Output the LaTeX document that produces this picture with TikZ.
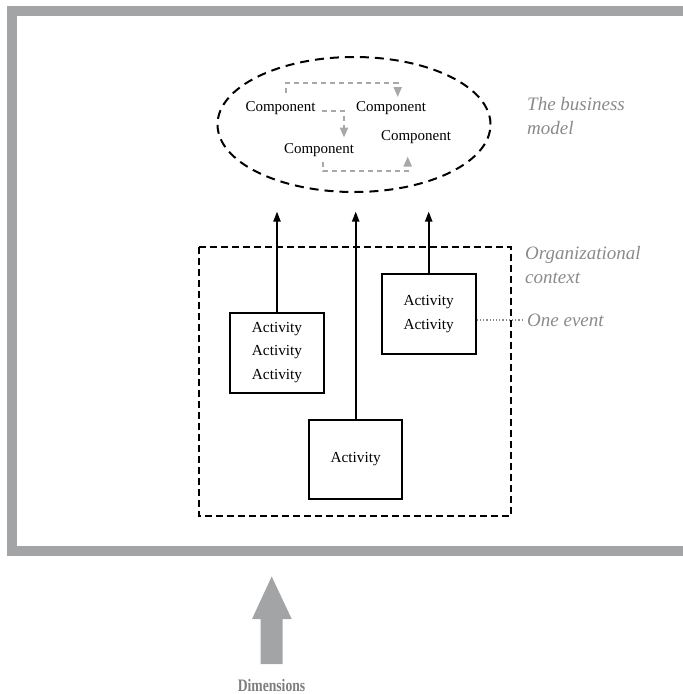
\documentclass[tikz,border=0pt]{standalone}
\usepackage{fontspec}
\setmainfont{Liberation Serif}
\newfontfamily\narrowbold[FakeStretch=0.78]{Liberation Serif Bold}
\usetikzlibrary{arrows.meta,shapes.geometric}
\definecolor{framegray}{HTML}{A3A4A6}
\definecolor{linkgray}{HTML}{A8A8A8}
\definecolor{labelgray}{HTML}{8A8A8A}
\definecolor{dimgray}{HTML}{7E7E7E}
\begin{document}
\begin{tikzpicture}[x=1pt,y=-1pt,
  comp/.style={inner sep=0pt,font=\fontsize{15}{18}\selectfont},
  actbox/.style={draw,line width=2pt,align=center,inner sep=0pt,
    font=\fontsize{15.3}{23.3}\selectfont},
  sidelabel/.style={inner sep=0pt,align=left,text=labelgray,
    font=\fontsize{19}{23.5}\selectfont\itshape},
  link/.style={draw=linkgray,line width=2pt,dash pattern=on 5pt off 4pt,
    -{Triangle[width=8pt,length=10pt,fill=linkgray]}},
  lift/.style={line width=2pt,-{Triangle[width=7pt,length=10pt]}},
  framing/.style={draw=framegray,line width=9.5pt,line join=miter}]
\useasboundingbox (0,0) rectangle (683,694);

% outer frame, open on the right
\draw[framing] (690,11) -| (12,551) -- (690,551);

% dimensions arrow
\fill[framegray] (260.7,664) -- (260.7,619) -- (252,619) -- (271.7,576.5)
  -- (291.7,619) -- (282.7,619) -- (282.7,664) -- cycle;
\node[text=dimgray,inner sep=0pt,anchor=base,font=\fontsize{17.5}{20}\narrowbold]
  (dim) at (271.5,691) {Dimensions};

% business model
\node[draw,ellipse,line width=2pt,dash pattern=on 9pt off 6pt,
  minimum width=273pt,minimum height=135pt] (bm) at (354,124.5) {};
\node[comp] (c1) at (280.5,108) {Component};
\node[comp] (c2) at (391,108) {Component};
\node[comp] (c3) at (416,137) {Component};
\node[comp] (c4) at (319,150) {Component};

\coordinate (l1s) at (286,93);
\coordinate (l1e) at (397.7,97);
\coordinate (l2s) at (321.7,111);
\coordinate (l2e) at (344,137.5);
\coordinate (l3s) at (323,161.5);
\coordinate (l3e) at (407.7,156.5);
\draw[link] (l1s) |- (l1e |- 0,83) -- (l1e);
\draw[link] (l2s) -| (l2e);
\draw[link] (l3s) |- (l3e |- 0,170.7) -- (l3e);

\node[sidelabel,anchor=base west] (bmlab) at (527,134) {The business\\model};

% organizational context
\draw[line width=2pt,dash pattern=on 7pt off 4pt] (198.5,247) rectangle (510.5,516);
\node[sidelabel,anchor=base west] (oclab) at (525,283) {Organizational\\context};

\node[actbox,minimum width=94pt,minimum height=80pt] (actA) at (277,352.5)
  {Activity\\Activity\\Activity};
\node[actbox,minimum width=94pt,minimum height=80pt] (actB) at (428.7,314)
  {Activity\\Activity};
\node[actbox,minimum width=93pt,minimum height=79pt] (actC) at (355.7,459.5)
  {Activity};

\coordinate (tA) at (277,211.5);
\coordinate (tB) at (428.7,211.5);
\coordinate (tC) at (355.7,211.5);
\draw[lift] (actA) -- (tA);
\draw[lift] (actB) -- (tB);
\draw[lift] (actC) -- (tC);

\node[sidelabel,anchor=west,inner xsep=4pt] (ev) at (523,320) {One event};
\draw[labelgray,line width=1.2pt,dotted] (actB.east |- ev.west) -- (ev.west);
\end{tikzpicture}
\end{document}
